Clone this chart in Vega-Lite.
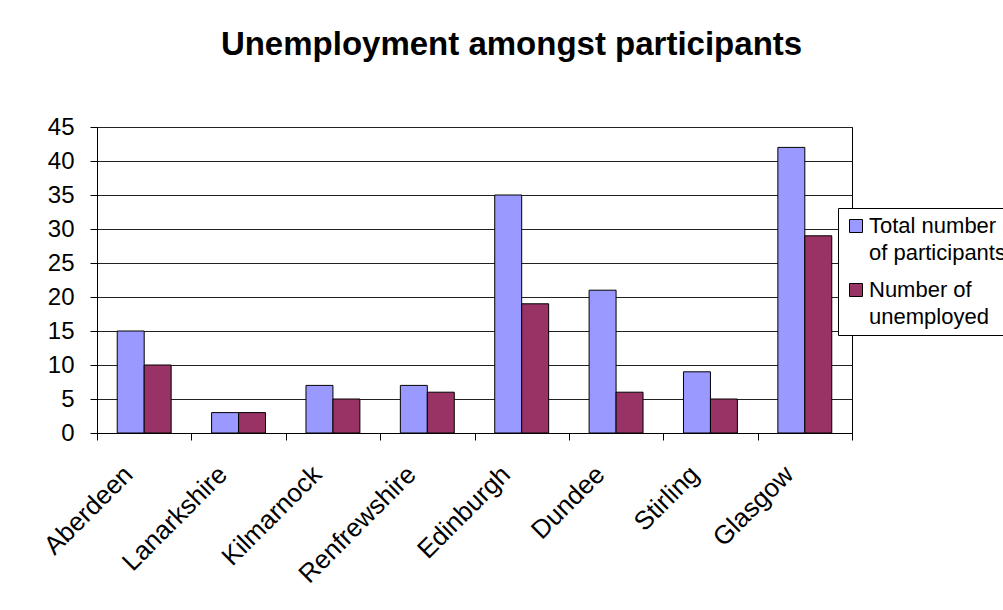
{
  "$schema": "https://vega.github.io/schema/vega-lite/v6.json",
  "autosize": "none",
  "width": 755,
  "height": 306,
  "padding": {"left": 97, "top": 127, "right": 151, "bottom": 177},
  "background": "white",
  "title": {
    "text": "Unemployment amongst participants",
    "font": "Liberation Sans",
    "fontSize": 33,
    "fontWeight": "bold",
    "color": "black",
    "anchor": "middle",
    "dx": 37,
    "baseline": "alphabetic",
    "offset": 27
  },
  "data": {
    "values": [
      {"city": "Aberdeen", "series": "Total number of participants", "value": 15},
      {"city": "Aberdeen", "series": "Number of unemployed", "value": 10},
      {"city": "Lanarkshire", "series": "Total number of participants", "value": 3},
      {"city": "Lanarkshire", "series": "Number of unemployed", "value": 3},
      {"city": "Kilmarnock", "series": "Total number of participants", "value": 7},
      {"city": "Kilmarnock", "series": "Number of unemployed", "value": 5},
      {"city": "Renfrewshire", "series": "Total number of participants", "value": 7},
      {"city": "Renfrewshire", "series": "Number of unemployed", "value": 6},
      {"city": "Edinburgh", "series": "Total number of participants", "value": 35},
      {"city": "Edinburgh", "series": "Number of unemployed", "value": 19},
      {"city": "Dundee", "series": "Total number of participants", "value": 21},
      {"city": "Dundee", "series": "Number of unemployed", "value": 6},
      {"city": "Stirling", "series": "Total number of participants", "value": 9},
      {"city": "Stirling", "series": "Number of unemployed", "value": 5},
      {"city": "Glasgow", "series": "Total number of participants", "value": 42},
      {"city": "Glasgow", "series": "Number of unemployed", "value": 29}
    ]
  },
  "mark": {"type": "bar", "stroke": "black", "strokeWidth": 1},
  "encoding": {
    "x": {
      "field": "city",
      "type": "nominal",
      "sort": null,
      "scale": {"paddingInner": 0, "paddingOuter": 0},
      "axis": {
        "title": null,
        "tickBand": "extent",
        "labelAngle": -45,
        "labelAlign": "right",
        "labelBaseline": "middle",
        "labelFont": "Liberation Sans",
        "labelFontSize": 26,
        "labelColor": "black",
        "labelPadding": 30,
        "labelOffset": -16,
        "tickColor": "black",
        "tickSize": 7,
        "domainColor": "black",
        "grid": false
      }
    },
    "xOffset": {
      "field": "series",
      "type": "nominal",
      "sort": ["Total number of participants", "Number of unemployed"],
      "scale": {"paddingInner": 0, "paddingOuter": 0.75}
    },
    "y": {
      "field": "value",
      "type": "quantitative",
      "scale": {"domain": [0, 45], "nice": false},
      "axis": {
        "title": null,
        "values": [0, 5, 10, 15, 20, 25, 30, 35, 40, 45],
        "labelFont": "Liberation Sans",
        "labelFontSize": 24,
        "labelColor": "black",
        "labelPadding": 16,
        "tickColor": "black",
        "tickSize": 7,
        "domainColor": "black",
        "grid": true,
        "gridColor": "#222222",
        "gridOpacity": 1
      }
    },
    "color": {
      "field": "series",
      "type": "nominal",
      "scale": {
        "domain": ["Total number of participants", "Number of unemployed"],
        "range": ["#9999FF", "#993366"]
      },
      "legend": {
        "title": null,
        "orient": "none",
        "legendX": 741,
        "legendY": 81,
        "strokeColor": "black",
        "fillColor": "white",
        "padding": 7,
        "symbolType": "square",
        "symbolSize": 169,
        "symbolStrokeColor": "black",
        "symbolStrokeWidth": 1,
        "symbolOpacity": 1,
        "labelFont": "Liberation Sans",
        "labelFontSize": 22,
        "labelColor": "black",
        "labelLimit": 400,
        "labelOffset": 2,
        "rowPadding": 15,
        "labelExpr": "datum.label == 'Total number of participants' ? ['Total number', 'of participants'] : ['Number of', 'unemployed']",
        "encode": {"labels": {"update": {"lineHeight": {"value": 27}}}}
      }
    }
  },
  "config": {
    "view": {"stroke": "black", "strokeWidth": 1}
  }
}
